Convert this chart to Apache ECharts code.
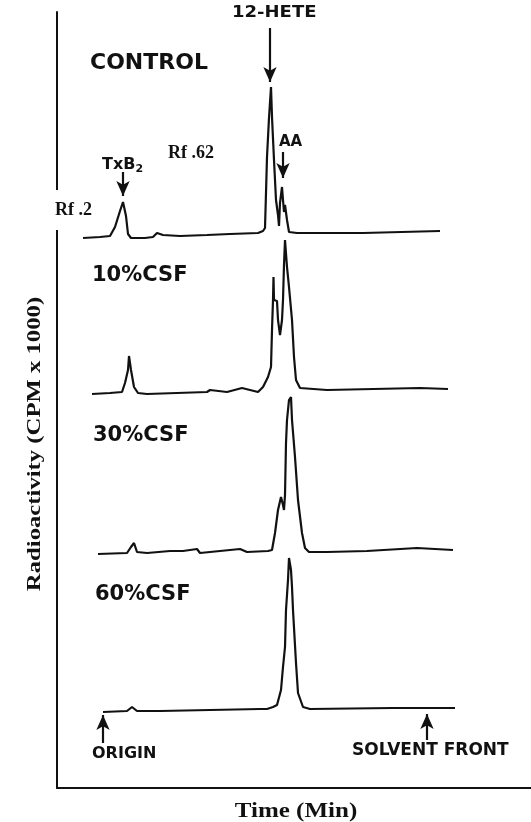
<!DOCTYPE html>
<html>
<head>
<meta charset="utf-8">
<script src="https://cdn.jsdelivr.net/npm/echarts@6/dist/echarts.min.js"></script>
<style>
html, body { margin: 0; padding: 0; background: #fff; }
#F { width: 531px; height: 822px; }
</style>
</head>
<body>
<div id="F"></div>
<script>
// radiochromatograms (time in arbitrary min, counts in CPM x 1000)
var traceNames = ['CONTROL', '10%CSF', '30%CSF', '60%CSF'];

var controlTime = [2.5, 4.2, 5.2, 5.7, 6.2, 6.5, 6.8, 7.0, 7.3, 8.7, 9.5, 9.9, 10.5, 12.2, 14.9, 17.2, 20.0, 20.5, 20.7, 20.8,
    20.9, 21.1, 21.3, 21.4, 21.6, 21.8, 22.0, 22.1, 22.2, 22.4, 22.5, 22.6, 22.7, 22.9, 23.1, 23.9, 30.5, 38.2];
var controlCpm = [0, 0.1, 0.2, 1.1, 2.7, 3.6, 2.2, 0.4, 0, 0, 0.1, 0.5, 0.3, 0.2, 0.3, 0.4, 0.5, 0.7, 1.0, 4.5,
    8.1, 12.0, 15.1, 12.1, 7.8, 3.8, 2.3, 1.2, 3.5, 5.1, 3.8, 2.6, 3.3, 1.8, 0.6, 0.5, 0.5, 0.7];

var csf10Time = [3.4, 5.2, 6.4, 6.7, 7.0, 7.1, 7.3, 7.6, 8.0, 8.9, 11.9, 14.9, 15.2, 16.9, 18.4, 19.2, 20.0, 20.5, 21.0, 21.3,
    21.4, 21.5, 21.55, 21.6, 21.9, 22.0, 22.2, 22.4, 22.5, 22.6, 22.7, 22.9, 23.1, 23.4, 23.6, 23.8, 24.2, 26.9, 36.2, 39.0];
var csf10Cpm = [0, 0.1, 0.2, 1.1, 2.4, 3.8, 2.4, 0.7, 0.1, 0, 0.1, 0.2, 0.4, 0.2, 0.6, 0.4, 0.2, 0.7, 1.7, 2.7,
    6.4, 9.4, 11.7, 9.4, 9.3, 7.4, 5.9, 7.4, 9.4, 12.9, 15.4, 12.7, 10.7, 7.4, 3.7, 1.4, 0.6, 0.4, 0.6, 0.5];

var csf30Time = [4.0, 6.9, 7.3, 7.6, 7.9, 8.9, 11.2, 12.5, 13.9, 14.2, 18.2, 18.9, 21.0, 21.4, 21.7, 22.0, 22.3, 22.5, 22.6, 22.7,
    22.8, 22.9, 23.1, 23.3, 23.4, 23.7, 24.0, 24.4, 24.7, 25.1, 26.9, 30.9, 35.9, 39.5];
var csf30Cpm = [0, 0.1, 0.7, 1.1, 0.2, 0.1, 0.3, 0.3, 0.5, 0.1, 0.5, 0.2, 0.3, 0.4, 2.1, 4.4, 5.7, 4.9, 4.4, 5.9,
    11.1, 13.4, 15.4, 15.7, 13.4, 9.7, 5.4, 2.1, 0.6, 0.2, 0.2, 0.3, 0.6, 0.4];

var csf60Time = [4.5, 6.9, 7.4, 7.6, 7.9, 10.2, 15.2, 20.2, 20.9, 21.5, 21.9, 22.3, 22.5, 22.7, 22.8, 23.0, 23.1, 23.3, 23.4, 23.5,
    23.8, 24.0, 24.5, 25.2, 33.5, 39.7];
var csf60Cpm = [0, 0.1, 0.5, 0.7, 0.1, 0.1, 0.2, 0.3, 0.3, 0.5, 0.7, 2.2, 4.5, 6.5, 10.2, 13.2, 15.4, 14.2, 12.5, 10.2,
    4.9, 1.9, 0.5, 0.3, 0.4, 0.4];

var traceTimes = [controlTime, csf10Time, csf30Time, csf60Time];
var traceCpms = [controlCpm, csf10Cpm, csf30Cpm, csf60Cpm];

// arrows: [time, from, to] in the trace's own units
var controlArrows = [[21.2, 21.0, 15.6], [6.5, 6.6, 4.2], [22.5, 8.6, 6.0]];
var csf60Arrows = [[4.5, -3.1, -0.3], [36.9, -2.8, -0.2]];

var myChart = echarts.init(document.getElementById('F'));

var sans = '"DejaVu Sans", sans-serif';
var serif = '"Liberation Serif", serif';
var baselines = [238, 394, 554, 712];

var grids = [{left: 57, right: 0, top: 12, bottom: 34}];
var xAxes = [{
    gridIndex: 0, type: 'value', min: 0, max: 1,
    axisLine: {show: true, onZero: false, lineStyle: {color: '#111', width: 2}},
    axisTick: {show: false}, axisLabel: {show: false}, splitLine: {show: false}
}];
var yAxes = [{
    gridIndex: 0, type: 'value', min: 0, max: 1,
    axisLine: {show: true, onZero: false, lineStyle: {color: '#111', width: 2}},
    axisTick: {show: false}, axisLabel: {show: false}, splitLine: {show: false}
}];
var series = [];

function arrowLines(list) {
    return list.map(function (a) {
        return [{coord: [a[0], a[1]]}, {coord: [a[0], a[2]]}];
    });
}

for (var i = 0; i < traceNames.length; i++) {
    // 10 px per unit both ways, y = 0 on the trace baseline
    grids.push({left: 58, right: 0, top: baselines[i] - 230, height: 270});
    xAxes.push({gridIndex: i + 1, type: 'value', min: 0, max: 47.3, show: false});
    yAxes.push({gridIndex: i + 1, type: 'value', min: -4, max: 23, show: false});
    var pts = [];
    for (var j = 0; j < traceTimes[i].length; j++) {
        pts.push([traceTimes[i][j], traceCpms[i][j]]);
    }
    var s = {
        name: traceNames[i],
        type: 'line',
        xAxisIndex: i + 1,
        yAxisIndex: i + 1,
        data: pts,
        symbol: 'none',
        clip: false,
        lineStyle: {color: '#111', width: 2.2},
        silent: true
    };
    var arr = i === 0 ? controlArrows : (i === 3 ? csf60Arrows : null);
    if (arr) {
        s.markLine = {
            silent: true,
            symbol: ['none', 'arrow'],
            symbolSize: [10, 15],
            label: {show: false},
            lineStyle: {color: '#111', width: 2.2, type: 'solid'},
            data: arrowLines(arr)
        };
    }
    series.push(s);
}

function txt(x, y, text, font, extra) {
    var o = {
        type: 'text', x: x, y: y, z: 100,
        style: {text: text, font: font, fill: '#111', align: 'left', verticalAlign: 'middle'}
    };
    if (extra) {
        for (var k in extra) {
            if (k === 'style') {
                for (var m in extra.style) o.style[m] = extra.style[m];
            } else {
                o[k] = extra[k];
            }
        }
    }
    return o;
}

var graphics = [
    txt(90, 63, 'CONTROL', 'bold 22px ' + sans),
    txt(232, 13, '12-HETE', 'bold 15px ' + sans, {scaleX: 1.2}),
    txt(102, 165, '{a|TxB}{s|2}', 'bold 16px ' + sans, {style: {rich: {
        a: {font: 'bold 16px ' + sans, fill: '#111'},
        s: {font: 'bold 11px ' + sans, fill: '#111', padding: [9, 0, 0, 0]}
    }}}),
    txt(168, 153, 'Rf .62', 'bold 18px ' + serif),
    txt(47, 210, 'Rf .2', 'bold 18px ' + serif, {style: {backgroundColor: '#fff', padding: [11, 2, 11, 8]}}),
    txt(279, 142, 'AA', 'bold 15px ' + sans),
    txt(92, 276, '10%CSF', 'bold 21px ' + sans),
    txt(93, 436, '30%CSF', 'bold 21px ' + sans),
    txt(95, 595, '60%CSF', 'bold 21px ' + sans),
    txt(92, 754, 'ORIGIN', 'bold 16px ' + sans),
    txt(352, 751, 'SOLVENT FRONT', 'bold 17px ' + sans),
    txt(296, 812, 'Time (Min)', 'bold 20px ' + serif, {scaleX: 1.25, style: {align: 'center'}}),
    txt(35, 444, 'Radioactivity (CPM x 1000)', 'bold 19px ' + serif, {rotation: Math.PI / 2, scaleX: 1.3, style: {align: 'center'}})
];

var option = {
    backgroundColor: '#fff',
    animation: false,
    grid: grids,
    xAxis: xAxes,
    yAxis: yAxes,
    series: series,
    graphic: graphics
};
myChart.setOption(option);
</script>
</body>
</html>
